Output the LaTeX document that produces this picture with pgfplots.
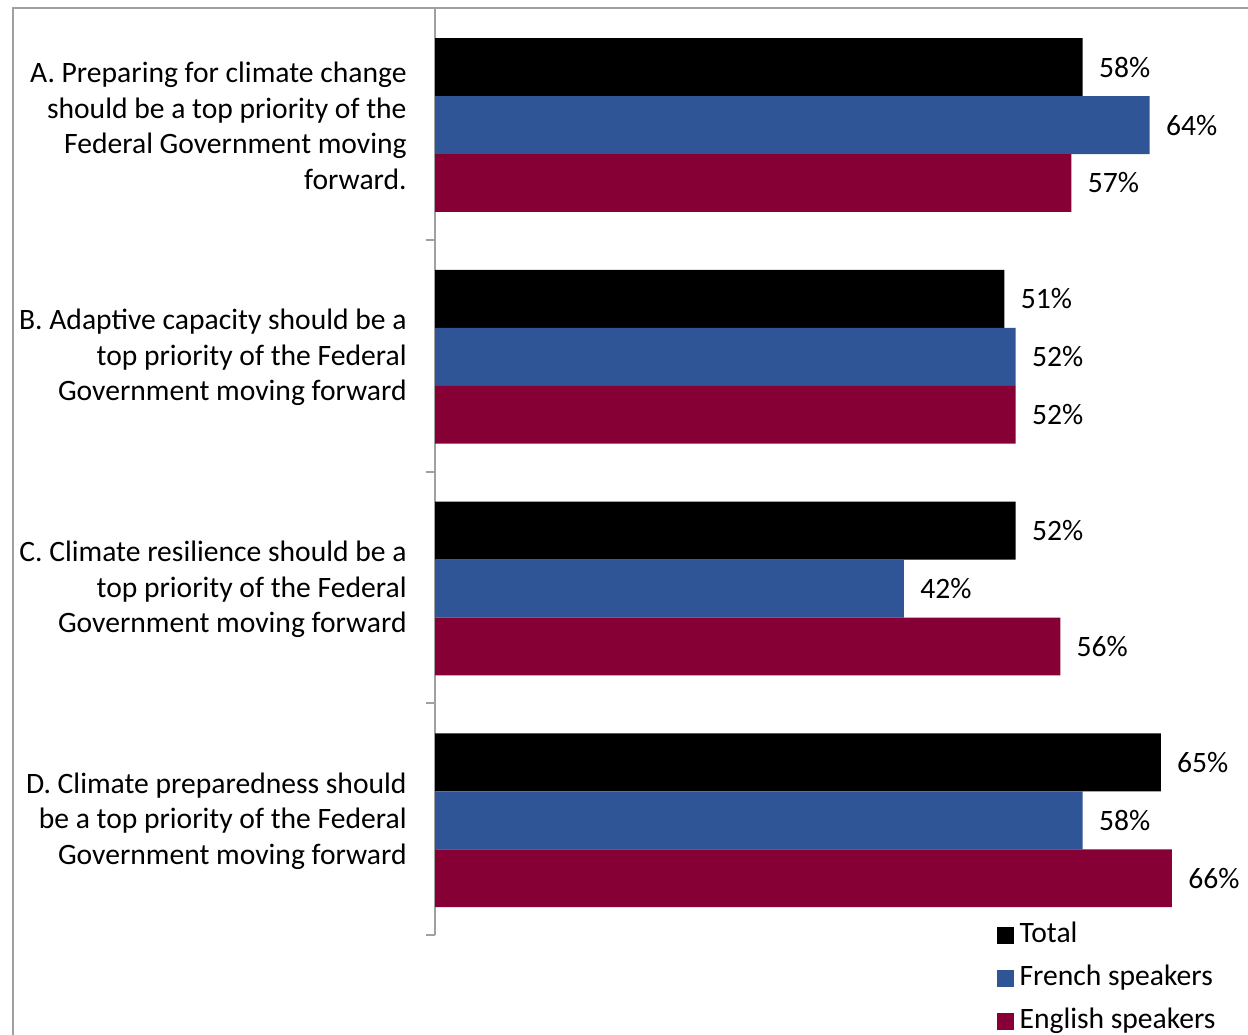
\documentclass[border=0pt]{standalone}
\usepackage{fontspec}
\setmainfont{Carlito}
\usepackage{pgfplots}
\pgfplotsset{compat=1.18}
\definecolor{tot}{RGB}{0,0,0}
\definecolor{fr}{RGB}{47,85,151}
\definecolor{en}{RGB}{134,0,54}
\definecolor{axgray}{RGB}{160,160,160}
\pgfplotsset{sqlegend/.style={legend image code/.code={\fill[##1] (0pt,-4pt) rectangle (8.5pt,4.5pt);}}}
\begin{document}
\begin{tikzpicture}
\path[use as bounding box] (0,0) rectangle (624pt,517pt);
\begin{scope}
\clip (0,0) rectangle (624pt,517pt);
\draw[axgray, line width=1pt] (6.25pt,-10pt) -- (6.25pt,512.75pt) -- (640pt,512.75pt);
\end{scope}
\begin{axis}[
 at={(217.5pt,49.5pt)}, anchor=south west,
 scale only axis, width=402pt, height=463.5pt,
 xmin=0, xmax=72, ymin=-0.5, ymax=3.5, y dir=reverse,
 axis x line=none, axis y line*=left,
 y axis line style={axgray, line width=1pt, -},
 ytick={0,1,2,3},
 yticklabels={{A. Preparing for climate change\\should be a top priority of the\\Federal Government moving\\forward.},
   {B. Adaptive capacity should be a\\top priority of the Federal\\Government moving forward},
   {C. Climate resilience should be a\\top priority of the Federal\\Government moving forward},
   {D. Climate preparedness should\\be a top priority of the Federal\\Government moving forward}},
 yticklabel style={text width=200pt, align=flush right, inner sep=0pt, xshift=-14pt, yshift=-1pt, font=\fontsize{14.8}{17.8}\selectfont},
 major tick length=0pt,
 minor ytick={0.5,1.5,2.5,3.5},
 minor tick length=4.5pt,
 tick align=outside,
 minor tick style={axgray, line width=1pt},
 clip=false,
 point meta=x,
 /pgf/number format/assume math mode=true,
 nodes near coords={\pgfmathprintnumber{\pgfplotspointmeta}\%},
 every node near coord/.append style={anchor=west, inner sep=0pt, xshift=8pt, font=\fontsize{14.8}{17.8}\selectfont, text=black},
 legend style={at={(0.698,0.016)}, anchor=north west, draw=none, fill=none, inner sep=0pt,
   font=\fontsize{14.8}{17.8}\selectfont, row sep=6.5pt,
   nodes={inner sep=0pt, text height=11pt, text depth=4pt},
   /tikz/every odd column/.append style={column sep=3pt}},
 legend cell align=left,
]
\addplot[xbar, bar width=0.25, bar shift=0, fill=tot, draw=none, sqlegend]
  coordinates {(58,-0.245) (51,0.755) (52,1.755) (65,2.755)};
\addplot[xbar, bar width=0.25, bar shift=0, fill=fr, draw=none, sqlegend]
  coordinates {(64,0.005) (52,1.005) (42,2.005) (58,3.005)};
\addplot[xbar, bar width=0.25, bar shift=0, fill=en, draw=none, sqlegend]
  coordinates {(57,0.255) (52,1.255) (56,2.255) (66,3.255)};
\legend{Total, French speakers, English speakers}
\end{axis}
\end{tikzpicture}
\end{document}
